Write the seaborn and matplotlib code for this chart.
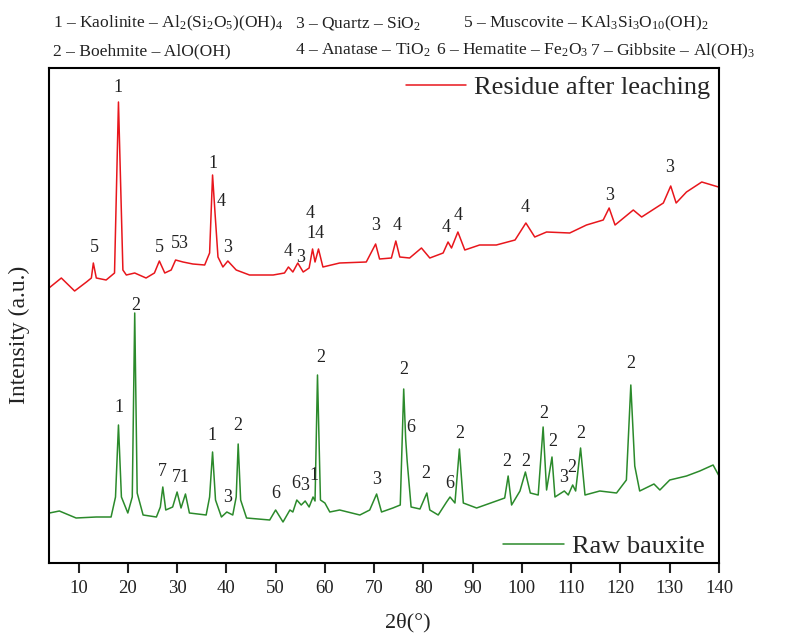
import numpy as np
import pandas as pd
import matplotlib
matplotlib.use("Agg")
import matplotlib.pyplot as plt
import seaborn as sns

# XRD pattern of the residue after leaching (2theta, intensity in a.u.)
residue_2theta = [4.0, 6.5, 9.2, 11.6, 12.6, 13.0, 13.6, 15.6, 17.3, 18.1, 19.0, 19.7,
                  21.4, 23.7, 25.4, 26.4, 27.5, 28.8, 29.7, 31.2, 33.2, 35.6, 36.6, 37.2,
                  37.7, 38.3, 39.3, 40.3, 42.0, 44.7, 49.5, 51.8, 52.6, 53.5, 54.5, 55.6,
                  56.8, 57.5, 58.0, 58.7, 59.6, 63.0, 68.4, 70.3, 71.1, 73.5, 74.4, 75.2,
                  77.2, 79.6, 81.3, 84.0, 85.0, 85.7, 87.0, 88.4, 91.4, 94.8, 98.6, 100.8,
                  102.6, 105.0, 109.7, 113.1, 116.5, 117.7, 118.9, 122.6, 124.3, 128.7,
                  130.2, 131.3, 133.4, 136.5, 139.9]
residue_int = [275, 285, 272, 281, 285, 300, 285, 283, 290, 461, 293, 288,
               290, 285, 290, 302, 290, 293, 303, 301, 299, 298, 310, 388,
               350, 306, 296, 302, 293, 288, 288, 290, 296, 291, 300, 291,
               295, 314, 301, 314, 296, 300, 301, 319, 304, 305, 322, 306,
               305, 315, 305, 310, 321, 315, 331, 313, 318, 318, 323, 340,
               326, 331, 330, 338, 343, 355, 338, 353, 346, 360,
               377, 360, 371, 381, 376]

# XRD pattern of the raw bauxite
bauxite_2theta = [4.1, 6.1, 9.5, 13.6, 16.6, 17.5, 18.1, 18.7, 20.0, 20.9, 21.4, 21.9,
                  23.1, 25.8, 26.6, 27.1, 27.7, 29.1, 30.0, 30.8, 31.7, 32.5, 35.9, 36.6,
                  37.2, 37.8, 39.0, 40.1, 41.3, 42.0, 42.4, 42.9, 44.1, 48.8, 50.0, 51.5,
                  52.9, 53.5, 54.3, 55.2, 56.0, 56.8, 57.6, 58.0, 58.5, 59.1, 60.0, 61.0,
                  63.0, 67.1, 69.1, 70.5, 71.5, 73.8, 75.3, 76.0, 76.4, 76.7, 77.5, 79.3,
                  80.7, 81.3, 83.0, 84.7, 85.4, 86.4, 87.3, 88.1, 90.8, 94.8, 96.5, 97.2,
                  97.9, 99.6, 100.7, 101.7, 103.3, 104.3, 105.0, 106.1, 106.7, 108.6, 109.4,
                  110.3, 110.9, 111.9, 112.8, 115.8, 119.2, 121.2, 122.1, 122.9, 123.9,
                  126.8, 128.0, 130.0, 133.4, 136.1, 138.8, 139.9]
bauxite_int = [50, 52, 45, 46, 46, 66, 138, 66, 50, 66, 250, 70,
               48, 46, 56, 76, 53, 56, 71, 55, 69, 50, 48, 66,
               111, 63, 46, 51, 48, 66, 119, 63, 45, 43, 53, 41,
               53, 51, 63, 58, 62, 56, 66, 62, 188, 63, 60, 51,
               53, 48, 53, 69, 51, 55, 58, 174, 124, 102, 56, 54,
               70, 53, 48, 61, 66, 60, 114, 60, 55, 62, 65, 87,
               58, 72, 91, 70, 68, 136, 73, 106, 66, 72, 68,
               78, 72, 115, 68, 72, 70, 83, 178, 97, 72,
               79, 73, 83, 87, 92, 98, 88]

# peak labels (phase number) for each pattern
residue_peak_x = [13.2, 18.1, 26.4, 30.5, 37.2, 39.0, 40.3, 52.5, 55.0, 57.1, 58.1,
                  70.3, 74.7, 84.7, 87.0, 100.7, 117.7, 130.0]
residue_peak_y = [315, 475, 315, 320, 400, 361, 315, 311, 306, 350, 330,
                  338, 338, 336, 347, 355, 368, 395]
residue_peak_txt = ["5", "1", "5", "53", "1", "4", "3", "4", "3", "4", "14",
                    "3", "4", "4", "4", "4", "3", "3"]

bauxite_peak_x = [18.2, 21.7, 26.9, 30.8, 37.1, 40.3, 42.4, 50.1, 54.0, 55.9, 57.7,
                  59.2, 70.6, 76.1, 77.4, 80.5, 85.4, 87.4, 97.0, 100.7, 104.4, 106.2,
                  108.4, 110.1, 111.9, 122.1]
bauxite_peak_y = [155, 257, 91, 85, 127, 66, 137, 70, 79, 77, 87,
                  205, 83, 193, 136, 90, 80, 130, 101, 101, 150, 121,
                  85, 96, 130, 200]
bauxite_peak_txt = ["1", "2", "7", "71", "1", "3", "2", "6", "6", "3", "1",
                    "2", "3", "2", "6", "2", "6", "2", "2", "2", "2", "2",
                    "3", "2", "2", "2"]

# phase key printed above the plot
phase_key = [
    (53, 27, "1 \u2013 Kaolinite \u2013 Al$\\mathregular{_2}$(Si$\\mathregular{_2}$O$\\mathregular{_5}$)(OH)$\\mathregular{_4}$"),
    (295, 27, "3 \u2013 Quartz \u2013 SiO$\\mathregular{_2}$"),
    (463, 27, "5 \u2013 Muscovite \u2013 KAl$\\mathregular{_3}$Si$\\mathregular{_3}$O$\\mathregular{_{10}}$(OH)$\\mathregular{_2}$"),
    (53, 55, "2 \u2013 Boehmite \u2013 AlO(OH)"),
    (295, 55, "4 \u2013 Anatase \u2013 TiO$\\mathregular{_2}$"),
    (436, 55, "6 \u2013 Hematite \u2013 Fe$\\mathregular{_2}$O$\\mathregular{_3}$"),
    (590, 55, "7 \u2013 Gibbsite \u2013 Al(OH)$\\mathregular{_3}$"),
]

sns.set_theme(style="white")
plt.rcParams['font.family'] = ['Liberation Serif', 'DejaVu Serif']
plt.rcParams['mathtext.fontset'] = 'custom'
plt.rcParams['mathtext.rm'] = 'Liberation Serif'

red = '#e8161c'
green = '#2b8a2b'

fig = plt.figure(figsize=(7.99, 6.35), dpi=100)
ax = fig.add_axes([49 / 799, 1 - 563 / 635, 670 / 799, 495 / 635])

sns.lineplot(x=residue_2theta, y=residue_int, color=red, linewidth=1.1, ax=ax,
             label='Residue after leaching', legend=False)
sns.lineplot(x=bauxite_2theta, y=bauxite_int, color=green, linewidth=1.1, ax=ax,
             label='Raw bauxite', legend=False)

for x, y, t in zip(residue_peak_x, residue_peak_y, residue_peak_txt):
    ax.text(x, y, t, ha='center', va='center', fontsize=13, color='#222222')
for x, y, t in zip(bauxite_peak_x, bauxite_peak_y, bauxite_peak_txt):
    ax.text(x, y, t, ha='center', va='center', fontsize=13, color='#222222')

ax.set_xlim(4, 140)
ax.set_ylim(0, 495)
ax.set_xticks(range(10, 141, 10))
ax.set_yticks([])
ax.tick_params(axis='x', bottom=True, direction='out', length=7, width=1.5,
               labelsize=13.5, pad=5, colors='#222222')
for s in ax.spines.values():
    s.set_color('black')
    s.set_linewidth(1.5)

ax.set_xlabel('2\u03b8(\u00b0)', fontsize=16, color='#222222')
ax.xaxis.set_label_coords(0.535, -0.1)
ax.set_ylabel('Intensity (a.u.)', fontsize=17, color='#222222')
ax.yaxis.set_label_coords(-0.028, 0.46)

lines = ax.get_lines()
leg1 = ax.legend([lines[0]], ['Residue after leaching'], loc='upper right',
                 bbox_to_anchor=(0.987, 0.985), frameon=False, fontsize=19,
                 handlelength=2.3, handletextpad=0.3, borderpad=0, borderaxespad=0)
ax.add_artist(leg1)
ax.legend([lines[1]], ['Raw bauxite'], loc='lower right',
          bbox_to_anchor=(0.978, 0.01), frameon=False, fontsize=19,
          handlelength=2.3, handletextpad=0.3, borderpad=0, borderaxespad=0)

for px, py, t in phase_key:
    fig.text(px / 799, 1 - py / 635, t, ha='left', va='baseline', fontsize=12.6,
             color='#222222')

fig.savefig('out.png', dpi=100)
